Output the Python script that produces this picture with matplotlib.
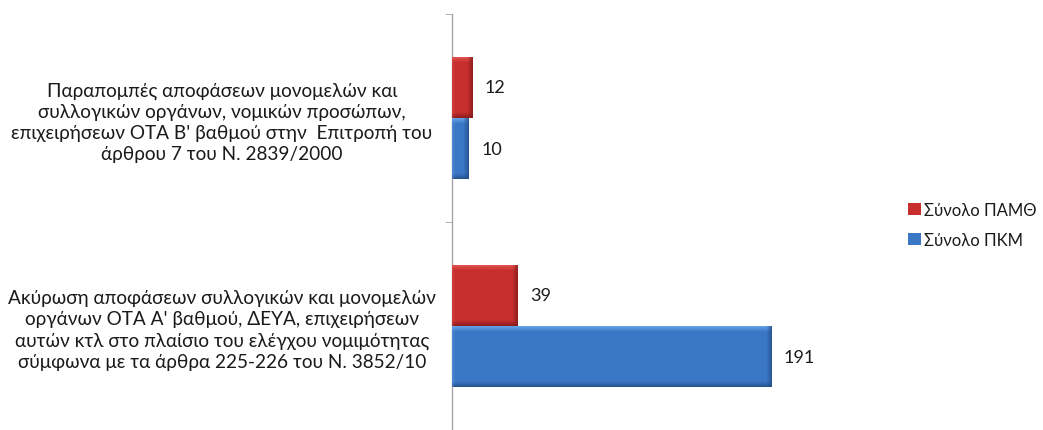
import numpy as np
import matplotlib
matplotlib.use("Agg")
import matplotlib.pyplot as plt
from matplotlib.colors import to_rgb

plt.rcParams['font.family'] = ['Lato', 'Open Sans', 'DejaVu Sans']

categories = [
    "Ακύρωση αποφάσεων συλλογικών και μονομελών\nοργάνων ΟΤΑ Α' βαθμού, ΔΕΥΑ, επιχειρήσεων\n"
    "αυτών κτλ στο πλαίσιο του ελέγχου νομιμότητας\nσύμφωνα με τα άρθρα 225-226 του Ν. 3852/10",
    "Παραπομπές αποφάσεων μονομελών και\nσυλλογικών οργάνων, νομικών προσώπων,\n"
    "επιχειρήσεων ΟΤΑ Β' βαθμού στην  Επιτροπή του\nάρθρου 7 του Ν. 2839/2000",
]
series_names = ["Σύνολο ΠΑΜΘ", "Σύνολο ΠΚΜ"]
pamth = [39, 12]
pkm = [191, 10]

colors = {"Σύνολο ΠΑΜΘ": ("#c62f2d", "#e65a58", "#861c1b"),
          "Σύνολο ΠΚΜ": ("#3a77c5", "#72aef0", "#25508a")}

W, H, DPI = 1043, 431, 100
fig = plt.figure(figsize=(W / DPI, H / DPI), dpi=DPI)
ax = fig.add_axes([452 / W, 0, (870 - 452) / W, 416 / H])

y = np.arange(len(categories))
h = 0.295
bars_red = ax.barh(y + h / 2, pamth, height=h, color=colors[series_names[0]][0],
                   label=series_names[0], zorder=2)
bars_blue = ax.barh(y - h / 2, pkm, height=h, color=colors[series_names[1]][0],
                    label=series_names[1], zorder=2)

ax.set_xlim(0, 250)
ax.set_ylim(-0.481, 1.5)

fig.canvas.draw()


def bevel(patch, base, light, dark):
    # shaded fill: light top edge, darker bottom and right edges
    x0, y0 = patch.get_x(), patch.get_y()
    x1, y1 = x0 + patch.get_width(), y0 + patch.get_height()
    p0 = ax.transData.transform((x0, y0))
    p1 = ax.transData.transform((x1, y1))
    nx = max(int(abs(p1[0] - p0[0])), 2)
    ny = max(int(abs(p1[1] - p0[1])), 2)
    b, l, d = (np.array(to_rgb(c)) for c in (base, light, dark))
    img = np.tile(b, (ny, nx, 1))
    rows = np.arange(ny)
    top = np.clip(1 - rows / 6.0, 0, 1)[:, None, None]
    bot = np.clip(1 - (ny - 1 - rows) / 5.0, 0, 1)[:, None, None]
    img = img * (1 - top * 0.9) + l * top * 0.9
    img = img * (1 - bot * 0.9) + d * bot * 0.9
    cols = np.arange(nx)
    right = np.clip(1 - (nx - 1 - cols) / 5.0, 0, 1)[None, :, None]
    left = np.clip(1 - cols / 3.0, 0, 1)[None, :, None]
    img = img * (1 - right * 0.8) + d * right * 0.8
    img = img * (1 - left * 0.3) + l * left * 0.3
    im = ax.imshow(img, extent=(x0, x1, y0, y1), origin="upper", aspect="auto",
                   interpolation="bilinear", zorder=3)
    im.set_clip_path(patch)


for bars, name in ((bars_red, series_names[0]), (bars_blue, series_names[1])):
    for p in bars:
        bevel(p, *colors[name])

ax.set_xlim(0, 250)
ax.set_ylim(-0.481, 1.5)

for bars, vals in ((bars_red, pamth), (bars_blue, pkm)):
    for p, v in zip(bars, vals):
        ax.annotate(str(v), (v, p.get_y() + p.get_height() / 2), xytext=(9, 0),
                    textcoords="offset points", va="center", ha="left",
                    fontsize=13, color="#1a1a1a")

for s in ["top", "right", "bottom"]:
    ax.spines[s].set_visible(False)
ax.spines["left"].set_color("#a6a6a6")
ax.spines["left"].set_linewidth(1.0)
ax.set_xticks([])
ax.set_yticks(y)
ax.set_yticklabels(categories, ha="center", multialignment="center",
                   fontsize=13.7, color="#1a1a1a", linespacing=1.3)
ax.tick_params(axis="y", which="major", length=0, pad=230 * 0.72)
ax.set_yticks([-0.5, 0.5, 1.5], minor=True)
ax.tick_params(axis="y", which="minor", length=5, color="#a6a6a6")

handles, labels = ax.get_legend_handles_labels()
leg = fig.legend(handles, labels, loc="center left", bbox_to_anchor=(893 / W, 1 - 226 / H),
                 frameon=False, fontsize=12, handlelength=0.75, handleheight=0.75,
                 handletextpad=0.2, labelspacing=0.85, labelcolor="#1a1a1a")

fig.savefig("out.png", dpi=DPI, facecolor="white")
